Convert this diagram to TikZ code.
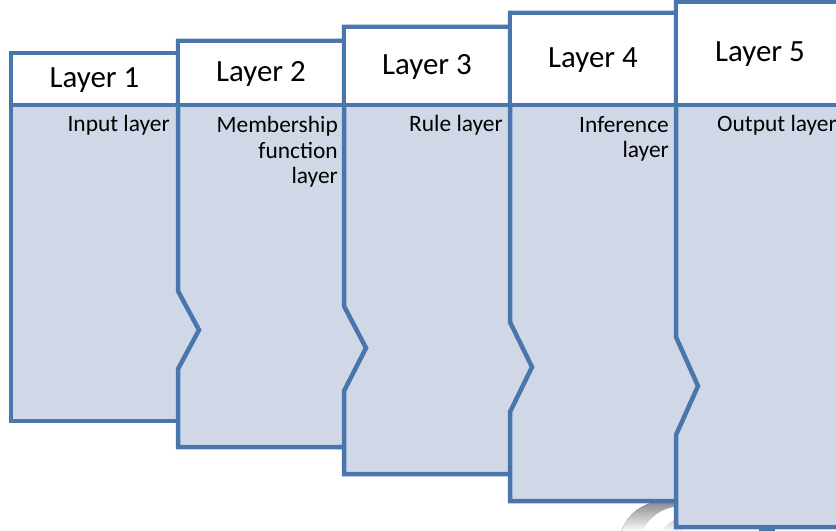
\documentclass[tikz,border=0pt]{standalone}
\usepackage{fontspec}
\setmainfont{Carlito}
\definecolor{edge}{RGB}{74,118,174}
\definecolor{bodyfill}{RGB}{208,216,232}
\definecolor{shade}{RGB}{200,200,200}
\tikzset{
  panel/.style={draw=edge, fill=bodyfill, line width=4.5bp, line join=miter},
  sepline/.style={draw=edge, line width=4.5bp},
  head/.style={anchor=base, inner sep=0pt, font=\fontsize{31}{36}\selectfont},
  lab/.style={anchor=base east, align=right, inner sep=0pt, font=\fontsize{23.5}{26}\selectfont},
}
% L T B R ny1 tipx tipy ny2
\newcommand\layerpanel[8]{%
  \filldraw[panel] (#1,#2) -- (#4,#2) -- (#4,#3) -- (#1,#3) -- (#1,#8) -- (#6,#7) -- (#1,#5) -- cycle;
  \fill[white] (#1+2.25,#2+2.25) rectangle (#4-2.25,105);
  \draw[sepline] (#1,105) -- (#4,105);
}
\begin{document}
\begin{tikzpicture}[x=1bp,y=-1bp]
\useasboundingbox (0,0) rectangle (836,531);
\clip (0,0) rectangle (836,531);
% partial grey shape and stub below the panels
\fill[shade] (621,532) .. controls (630,508) and (650,499) .. (680,499) -- (680,532) -- cycle;
\fill[white] (642,532) .. controls (650,516) and (662,508) .. (680,506) -- (680,518) .. controls (670,521) and (664,526) .. (662,532) -- cycle;
\fill[edge] (759,524) rectangle (775,532);
% panels
\layerpanel{11}{53}{421}{240}{300}{11}{300}{300}
\layerpanel{178}{41}{447}{400}{291}{199}{330}{369}
\layerpanel{344}{27}{474}{570}{306}{366}{348}{391}
\layerpanel{510}{13}{501}{740}{322}{532}{367}{412}
\layerpanel{676}{2}{527}{846}{337}{698}{386}{435}
% headers
\node[head] (h1) at (94.5,88) {Layer 1};
\node[head] (h2) at (261,82) {Layer 2};
\node[head] (h3) at (427,75) {Layer 3};
\node[head] (h4) at (593,68) {Layer 4};
\node[head] (h5) at (760,62) {Layer 5};
% body labels (anchored at the baseline of the last line)
\node[lab] (t1) at (170,132) {Input layer};
\node[lab] (t2) at (338,184) {Membership\\function\\layer};
\node[lab] (t3) at (503,132) {Rule layer};
\node[lab] (t4) at (669,158) {Inference\\layer};
\node[lab] (t5) at (837,132) {Output layer};
\end{tikzpicture}
\end{document}
